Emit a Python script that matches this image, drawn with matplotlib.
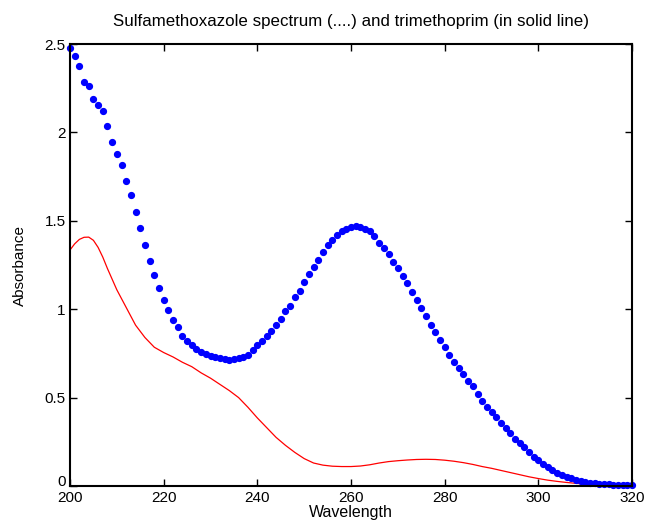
import matplotlib
matplotlib.use('Agg')
import matplotlib.pyplot as plt
import matplotlib.transforms as mtransforms
import numpy as np

plt.rcParams['font.family'] = ['Liberation Sans', 'DejaVu Sans']

# sulfamethoxazole, one point per nm from 200 to 320
smx_wl = np.arange(200, 321)
smx_abs = [2.48, 2.43, 2.375, 2.285, 2.265, 2.19, 2.155, 2.12, 2.035, 1.947,
           1.877, 1.817, 1.728, 1.647, 1.552, 1.458, 1.361, 1.273, 1.194, 1.118,
           1.052, 0.995, 0.940, 0.897, 0.850, 0.823, 0.797, 0.775, 0.760, 0.748,
           0.737, 0.730, 0.722, 0.718, 0.714, 0.716, 0.722, 0.732, 0.742, 0.771,
           0.799, 0.820, 0.846, 0.878, 0.912, 0.944, 0.988, 1.021, 1.067, 1.105,
           1.156, 1.201, 1.239, 1.280, 1.324, 1.361, 1.394, 1.420, 1.440, 1.455,
           1.465, 1.469, 1.465, 1.455, 1.441, 1.416, 1.375, 1.345, 1.310, 1.267,
           1.231, 1.186, 1.148, 1.099, 1.054, 1.007, 0.959, 0.912, 0.869, 0.827,
           0.789, 0.742, 0.704, 0.670, 0.633, 0.595, 0.563, 0.520, 0.483, 0.449,
           0.421, 0.389, 0.355, 0.327, 0.302, 0.266, 0.242, 0.219, 0.191, 0.166,
           0.147, 0.126, 0.106, 0.091, 0.075, 0.062, 0.053, 0.043, 0.034, 0.028,
           0.022, 0.018, 0.015, 0.012, 0.010, 0.009, 0.008, 0.007, 0.007, 0.006,
           0.006]

# trimethoprim (solid line)
tmp_wl = [200, 201, 202, 203, 204, 205, 206, 207, 208, 209, 210, 212, 214, 216,
          218, 220, 222, 224, 226, 228, 230, 232, 234, 236, 238, 240, 242, 244,
          246, 248, 250, 252, 254, 256, 258, 260, 262, 264, 266, 268, 270, 272,
          274, 276, 278, 280, 282, 284, 286, 288, 290, 292, 294, 296, 298, 300,
          302, 304, 306, 308, 310, 312, 314, 316, 318, 320]
tmp_abs = [1.335, 1.37, 1.395, 1.407, 1.408, 1.39, 1.35, 1.295, 1.23, 1.17,
           1.11, 1.01, 0.91, 0.84, 0.785,
           0.755, 0.73, 0.70, 0.675, 0.64, 0.61, 0.575, 0.54, 0.50, 0.445,
           0.385, 0.33, 0.275, 0.23, 0.19, 0.155, 0.13, 0.118, 0.112, 0.11,
           0.11, 0.113, 0.12, 0.13, 0.138, 0.143, 0.147, 0.15, 0.151, 0.15,
           0.146, 0.14, 0.132, 0.122, 0.11, 0.10, 0.088, 0.076, 0.064, 0.052,
           0.042, 0.033, 0.026, 0.02, 0.015, 0.011, 0.008, 0.006, 0.004, 0.003,
           0.002]

fig = plt.figure(figsize=(6.45, 5.25), dpi=100)
ax = fig.add_axes([0.1085, 0.0743, 0.8715, 0.8417])

ax.plot(tmp_wl, tmp_abs, '-', color='red', lw=0.9)
ax.plot(smx_wl, smx_abs, 'o', color='blue', ms=4.2, mec='blue', clip_on=False)

ax.set_xlim(200, 320)
ax.set_ylim(0, 2.5)
ax.set_xticks(np.arange(200, 321, 20))
ax.set_yticks([0, 0.5, 1, 1.5, 2, 2.5])
ax.set_yticklabels(['0', '0.5', '1', '1.5', '2', '2.5'])
ax.tick_params(direction='in', top=True, right=True, length=5, width=1,
               labelsize=11)
ax.tick_params(axis='x', pad=3.5)
ax.tick_params(axis='y', pad=3)
for s in ax.spines.values():
    s.set_linewidth(1.5)

# nudge the "0" up a little so it sits clear of "200"
lbl0 = ax.get_yticklabels()[0]
lbl0.set_transform(lbl0.get_transform() +
                   mtransforms.ScaledTranslation(0, 4 / 72, fig.dpi_scale_trans))

ax.set_title('Sulfamethoxazole spectrum (....) and trimethoprim (in solid line)',
             fontsize=12.2, pad=13)
ax.set_xlabel('Wavelength', fontsize=11.5, labelpad=0)
ax.set_ylabel('Absorbance', fontsize=11, labelpad=13)

fig.savefig('out.png', dpi=100)
